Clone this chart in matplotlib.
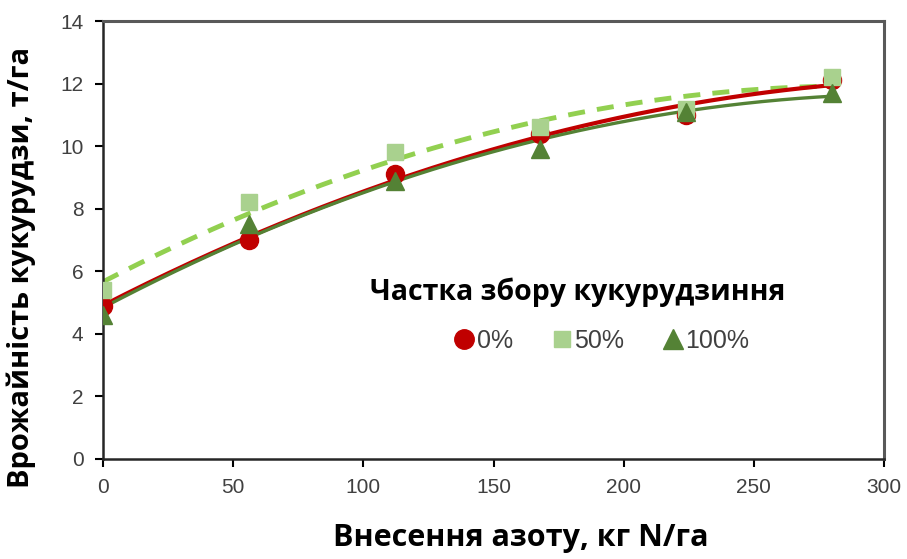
import numpy as np
import matplotlib.pyplot as plt
from matplotlib.lines import Line2D

# Nitrogen rates and yields for each stover removal share
nitrogen = [0, 56, 112, 168, 224, 280]
yield_0 = [4.9, 7.0, 9.1, 10.4, 11.0, 12.1]
yield_50 = [5.4, 8.2, 9.8, 10.6, 11.2, 12.2]
yield_100 = [4.6, 7.5, 8.9, 9.9, 11.1, 11.7]
labels = ['0%', '50%', '100%']

red = '#C00000'
light_green = '#A9D18E'
dark_green = '#548235'
dash_green = '#92D050'
tick_font = ['Liberation Sans Narrow', 'Liberation Sans']

fig = plt.figure(figsize=(9.07, 5.59), dpi=100)
ax = fig.add_axes([0.1136, 0.1789, 0.8611, 0.7835])

xs = np.linspace(0, 280, 200)

# 2nd-order polynomial trend lines
for y, color, ls, lw in [(yield_50, dash_green, (0, (3.5, 2.5)), 3.5),
                         (yield_0, red, '-', 3.0),
                         (yield_100, dark_green, '-', 2.4)]:
    coef = np.polyfit(nitrogen, y, 2)
    ax.plot(xs, np.polyval(coef, xs), color=color, ls=ls, lw=lw, zorder=2)

ax.plot(nitrogen, yield_0, 'o', color=red, ms=13, zorder=3)
ax.plot(nitrogen, yield_50, 's', color=light_green, ms=11.5, zorder=4)
ax.plot(nitrogen, yield_100, '^', color=dark_green, ms=13, zorder=5)

ax.set_xlim(0, 300)
ax.set_ylim(0, 14)
ax.set_xticks(range(0, 301, 50))
ax.set_yticks(range(0, 15, 2))
ax.tick_params(direction='out', length=6, width=1.5, labelsize=15,
               colors='black', labelcolor='#404040', pad=8)
for lab in ax.get_xticklabels() + ax.get_yticklabels():
    lab.set_family(tick_font)
for side in ['left', 'bottom']:
    ax.spines[side].set_linewidth(1.8)
    ax.spines[side].set_color('#262626')
for side in ['top', 'right']:
    ax.spines[side].set_linewidth(2.2)
    ax.spines[side].set_color('#595959')

ax.set_xlabel('Внесення азоту, кг N/га', fontsize=22, fontweight='bold',
              family='Open Sans')
ax.set_ylabel('Врожайність кукурудзи, т/га', fontsize=21, fontweight='bold',
              family='Open Sans')
ax.xaxis.set_label_coords(0.535, -0.145)
ax.yaxis.set_label_coords(-0.086, 0.438)

# legend title and entries
ax.text(0.608, 0.381, 'Частка збору кукурудзиння', transform=ax.transAxes,
        ha='center', va='center', fontsize=20.5, fontweight='bold',
        family='Open Sans')
handles = [Line2D([], [], ls='', marker='o', color=red, ms=14),
           Line2D([], [], ls='', marker='s', color=light_green, ms=12),
           Line2D([], [], ls='', marker='^', color=dark_green, ms=14)]
leg = ax.legend(handles, labels, ncol=3, loc='center', bbox_to_anchor=(0.629, 0.27),
                frameon=False, handletextpad=-0.5, columnspacing=0.95,
                prop={'family': tick_font, 'size': 18})
for t in leg.get_texts():
    t.set_color('#404040')

fig.savefig('out.png', dpi=100)
